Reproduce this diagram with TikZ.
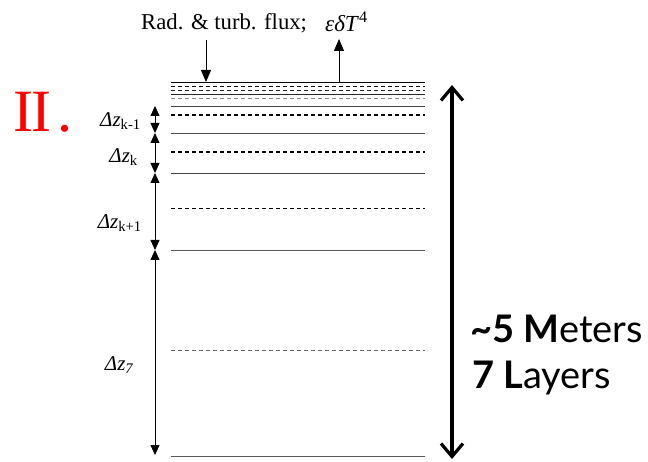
\documentclass[tikz,border=0pt]{standalone}
\usepackage{fontspec}
\setmainfont{Liberation Serif}
\newfontfamily\gillfont{Lato}
\usetikzlibrary{arrows.meta}

\begin{document}
\begin{tikzpicture}[x=1pt, y=-1pt,
    bound/.style={line width=0.9pt, draw=black!70},
    midline/.style={line width=1pt, dash pattern=on 4pt off 3pt},
    dzarrow/.style={line width=0.8pt, {Triangle[length=10pt,width=9pt]}-{Triangle[length=10pt,width=9pt]}},
    dzlabel/.style={font=\fontsize{21}{21}\selectfont, anchor=east, inner sep=0pt},
    fluxarrow/.style={line width=0.8pt, -{Triangle[length=12pt,width=10pt]}},
    deptharrow/.style={line width=3.2pt, {Straight Barb[length=13pt,width=22pt]}-{Straight Barb[length=13pt,width=22pt]}},
    bigtext/.style={font=\gillfont\fontsize{38}{38}\selectfont, anchor=base west, inner sep=0pt}
]
\useasboundingbox (0,0) rectangle (648,462);

% Layer boundaries
\foreach \y/\c in {82/black, 94/black!85, 106/black!75, 133/black!70, 173/black!75, 250/black!65, 456/black!65}
  \draw[bound, draw=\c] (171,\y) -- (425,\y);

% Layer mid points
\foreach \y/\c/\w in {86/black/0.9, 90/black!85/0.9, 99/black!45/1.0, 115/black/1.2, 152/black/1.1, 209/black/1.0, 350/black!60/0.8}
  \draw[midline, draw=\c, line width=\w pt] (171,\y) -- (425,\y);

% Surface fluxes
\coordinate (top) at (171,82);
\node[inner sep=0pt, anchor=west, font=\fontsize{22.7}{22.7}\selectfont] (flux) at (141,23) {Rad. \& turb. flux;};
\node[inner sep=0pt, anchor=west, font=\fontsize{23}{23}\selectfont] (emit) at (325,22) {\textit{εδT}\textsuperscript{4}};
\coordinate (fin) at (206,40);
\coordinate (fout) at (339,39);
\draw[fluxarrow] (fin) -- (fin |- top);
\draw[fluxarrow] (fout |- top) -- (fout);

% Layer thickness
\coordinate (d1) at (155,106);
\coordinate (d2) at (155,133);
\coordinate (d3) at (155,173);
\coordinate (d4) at (155,250);
\coordinate (d5) at (155,455);
\draw[dzarrow] (d1) -- (d2);
\draw[dzarrow] (d2) -- (d3);
\draw[dzarrow] (d3) -- (d4);
\draw[dzarrow] (d4) -- (d5);
\node[dzlabel] (dzkm) at (141,121) {\textit{Δz}\textsubscript{k-1}};
\node[dzlabel] (dzk) at (138,157) {\textit{Δz}\textsubscript{k}};
\node[dzlabel] (dzkp) at (142,223) {\textit{Δz}\textsubscript{k+1}};
\node[dzlabel] (dzs) at (134,365) {\textit{Δz}\textsubscript{\textit{7}}};

% Total depth
\coordinate (dtop) at (452,85);
\coordinate (dbot) at (452,459);
\draw[deptharrow] (dtop) -- (dbot);
\node[bigtext] (meters) at (470,342) {\textbf{\textasciitilde5 M}eters};
\node[bigtext] (layers) at (472,388) {\textbf{7 L}ayers};

% Section mark
\node[text=red, inner sep=0pt, anchor=base west, font=\fontsize{60}{60}\selectfont] (sec) at (13,132) {I\kern-2ptI\kern6pt.};
\end{tikzpicture}
\end{document}
